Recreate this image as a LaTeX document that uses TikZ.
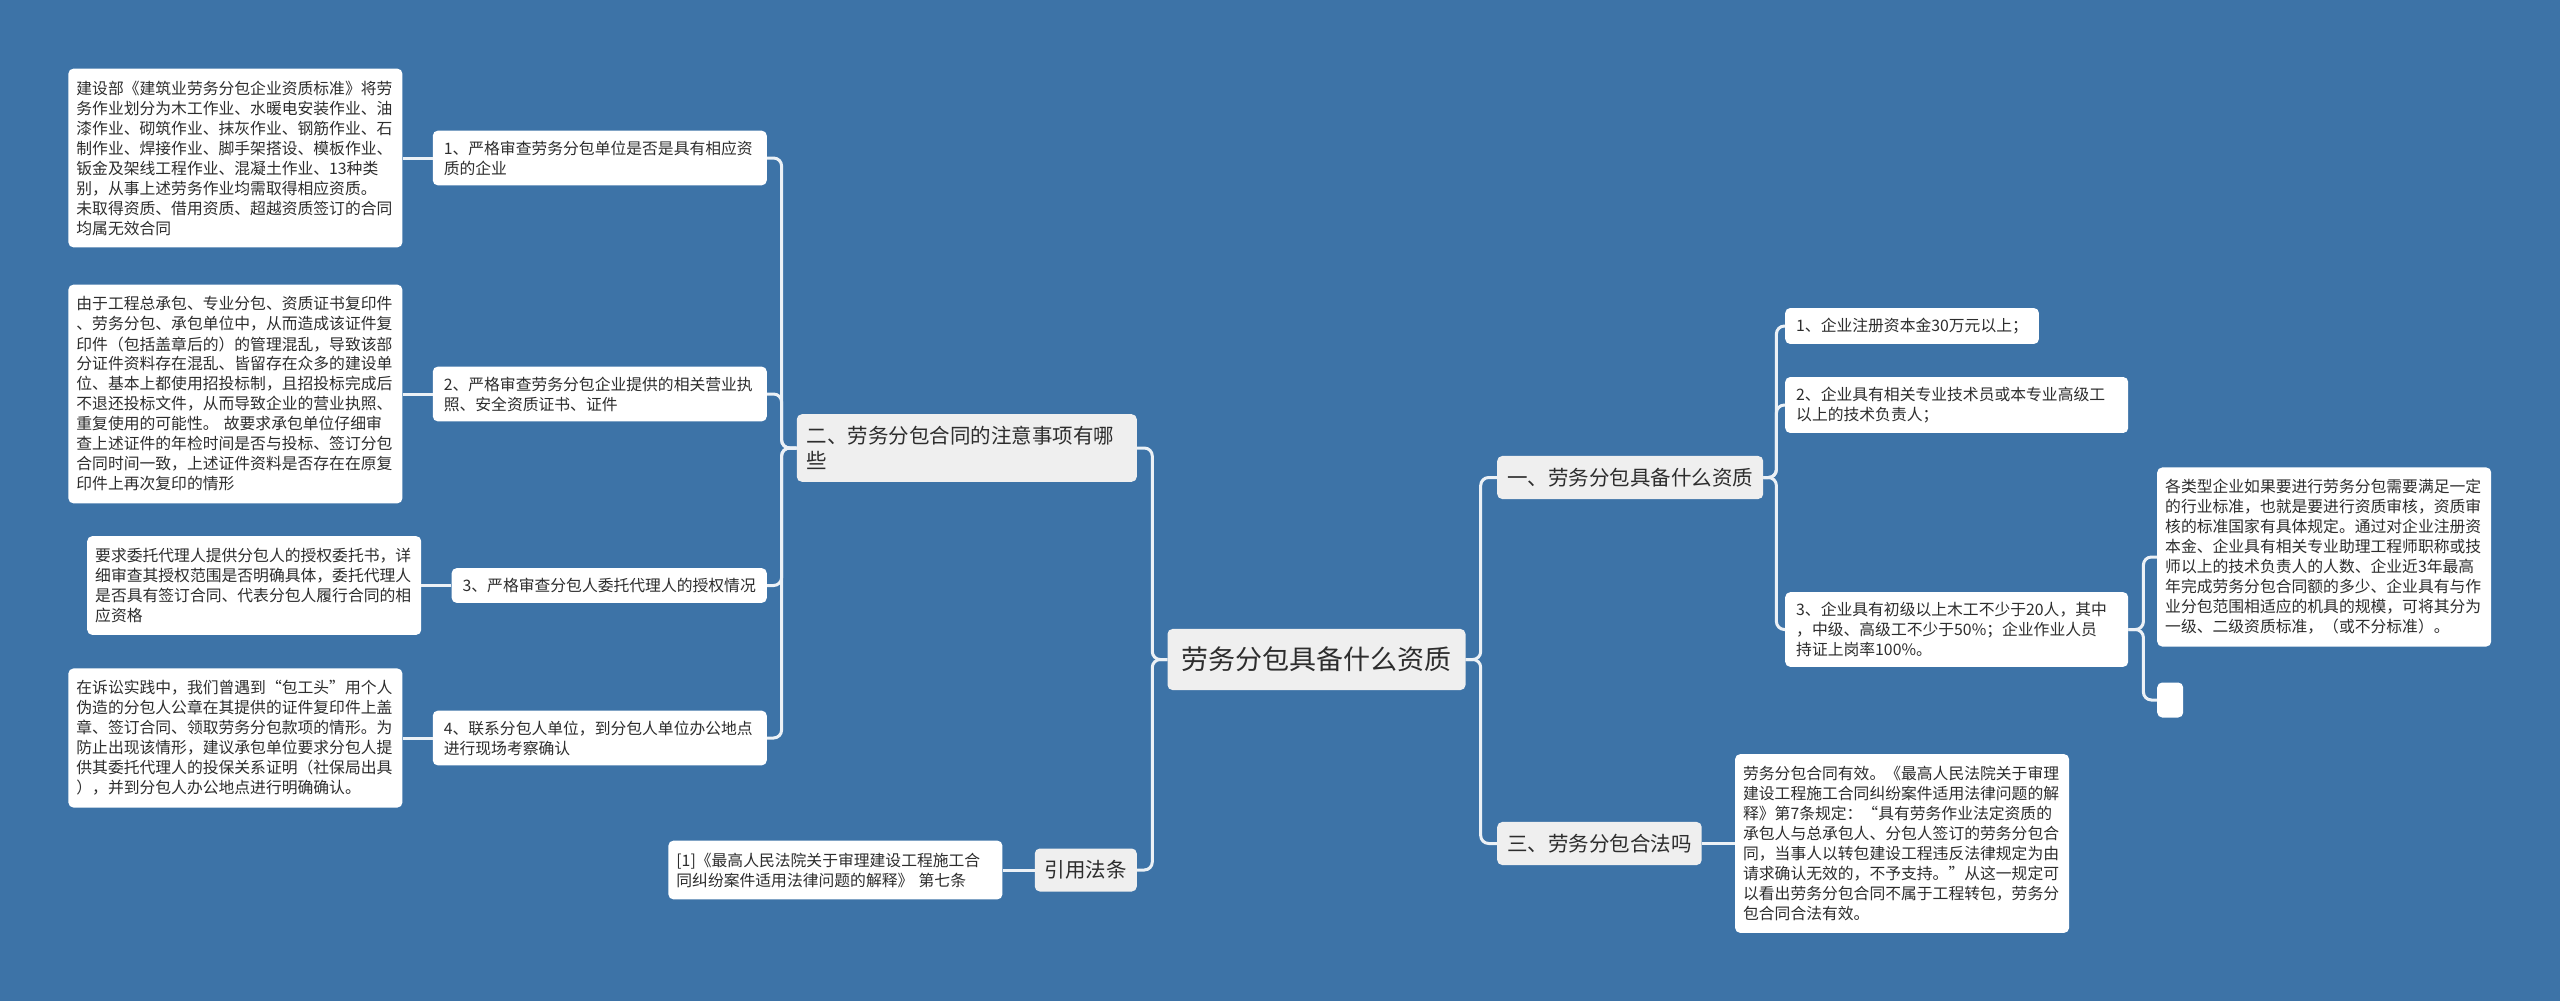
\documentclass[tikz,border=0pt]{standalone}
\usepackage{fontspec}
\setmainfont{Noto Sans CJK SC}
\usetikzlibrary{positioning}
\definecolor{bgblue}{RGB}{61,115,167}
\definecolor{topicgray}{RGB}{239,239,239}
\definecolor{inkgray}{RGB}{45,45,45}
\definecolor{linkwhite}{RGB}{236,241,246}

\begin{document}
\begin{tikzpicture}[x=1pt,y=-1pt,node distance=30pt,
  cardbase/.style={rounded corners=5pt,text=inkgray,align=left},
  rootbox/.style={cardbase,fill=topicgray,font=\fontsize{27}{32}\selectfont,inner xsep=14pt,inner ysep=18pt},
  topic/.style={cardbase,fill=topicgray,font=\fontsize{20.5}{25}\selectfont,inner xsep=10pt,inner ysep=12pt},
  sub/.style={cardbase,fill=white,font=\fontsize{15.8}{20}\selectfont,inner xsep=11pt,inner ysep=10pt},
  leaf/.style={cardbase,fill=white,font=\fontsize{15.8}{20}\selectfont,text width=318pt,inner xsep=8pt,inner ysep=12pt},
  link/.style={draw=linkwhite,line width=3pt,rounded corners=8pt}]
\useasboundingbox (0,0) rectangle (2560,1001);
\fill[bgblue] (0,0) rectangle (2560,1001);

% centre and first level
\node[rootbox] (root) at (1316.5,659.5) {劳务分包具备什么资质};
\node[topic,text width=320pt,anchor=east] (er) at (1137,448) {二、劳务分包合同的注意事项有哪\\些};
\node[topic,anchor=east] (yinyong) at (1137,870) {引用法条};
\node[topic,anchor=west] (yi) at (1497,477.5) {一、劳务分包具备什么资质};
\node[topic,anchor=west] (san) at (1497,843.5) {三、劳务分包合法吗};

% left branch
\node[sub,text width=312pt,anchor=east] (e1) at (767,158) {1、严格审查劳务分包单位是否是具有相应资\\质的企业};
\node[sub,text width=312pt,anchor=east] (e2) at (767,394) {2、严格审查劳务分包企业提供的相关营业执\\照、安全资质证书、证件};
\node[sub,anchor=east] (e3) at (767,585.5) {3、严格审查分包人委托代理人的授权情况};
\node[sub,text width=312pt,anchor=east] (e4) at (767,738) {4、联系分包人单位，到分包人单位办公地点\\进行现场考察确认};

\node[leaf,left=of e1] (e1-note) {建设部《建筑业劳务分包企业资质标准》将劳\\务作业划分为木工作业、水暖电安装作业、油\\漆作业、砌筑作业、抹灰作业、钢筋作业、石\\制作业、焊接作业、脚手架搭设、模板作业、\\钣金及架线工程作业、混凝土作业、13种类\\别，从事上述劳务作业均需取得相应资质。\\未取得资质、借用资质、超越资质签订的合同\\均属无效合同};
\node[leaf,left=of e2] (e2-note) {由于工程总承包、专业分包、资质证书复印件\\、劳务分包、承包单位中，从而造成该证件复\\印件（包括盖章后的）的管理混乱，导致该部\\分证件资料存在混乱、皆留存在众多的建设单\\位、基本上都使用招投标制，且招投标完成后\\不退还投标文件，从而导致企业的营业执照、\\重复使用的可能性。 故要求承包单位仔细审\\查上述证件的年检时间是否与投标、签订分包\\合同时间一致，上述证件资料是否存在在原复\\印件上再次复印的情形};
\node[leaf,left=of e3] (e3-note) {要求委托代理人提供分包人的授权委托书，详\\细审查其授权范围是否明确具体，委托代理人\\是否具有签订合同、代表分包人履行合同的相\\应资格};
\node[leaf,left=of e4] (e4-note) {在诉讼实践中，我们曾遇到“包工头”用个人\\伪造的分包人公章在其提供的证件复印件上盖\\章、签订合同、领取劳务分包款项的情形。为\\防止出现该情形，建议承包单位要求分包人提\\供其委托代理人的投保关系证明（社保局出具\\），并到分包人办公地点进行明确确认。};
\node[leaf,left=32pt of yinyong] (yinyong-note) {[1]《最高人民法院关于审理建设工程施工合\\同纠纷案件适用法律问题的解释》 第七条};

% right branch
\node[sub,anchor=west] (y1) at (1785,326) {1、企业注册资本金30万元以上；};
\node[sub,text width=321pt,anchor=west] (y2) at (1785,405) {2、企业具有相关专业技术员或本专业高级工\\以上的技术负责人；};
\node[sub,text width=321pt,anchor=west] (y3) at (1785,629.5) {3、企业具有初级以上木工不少于20人，其中\\，中级、高级工不少于50\%；企业作业人员\\持证上岗率100\%。};
\node[leaf,anchor=west] (y3-note) at (2157,557) {各类型企业如果要进行劳务分包需要满足一定\\的行业标准，也就是要进行资质审核，资质审\\核的标准国家有具体规定。通过对企业注册资\\本金、企业具有相关专业助理工程师职称或技\\师以上的技术负责人的人数、企业近3年最高\\年完成劳务分包合同额的多少、企业具有与作\\业分包范围相适应的机具的规模，可将其分为\\一级、二级资质标准，（或不分标准）。};
\node[sub,anchor=west,minimum width=26pt,minimum height=35pt,inner sep=0pt] (y3-blank) at (2157,700) {};
\node[leaf,right=33pt of san] (san-note) {劳务分包合同有效。《最高人民法院关于审理\\建设工程施工合同纠纷案件适用法律问题的解\\释》第7条规定：“具有劳务作业法定资质的\\承包人与总承包人、分包人签订的劳务分包合\\同，当事人以转包建设工程违反法律规定为由\\请求确认无效的，不予支持。”从这一规定可\\以看出劳务分包合同不属于工程转包，劳务分\\包合同合法有效。};

% connectors
\draw[link] (root.west) -- ++(-15,0) |- (er.east);
\draw[link] (root.west) -- ++(-15,0) |- (yinyong.east);
\draw[link] (root.east) -- ++(15,0) |- (yi.west);
\draw[link] (root.east) -- ++(15,0) |- (san.west);
\foreach \k in {e1,e2,e3,e4}
  \draw[link] (er.west) -- ++(-15,0) |- (\k.east);
\foreach \k in {y1,y2,y3}
  \draw[link] (yi.east) -- ++(13,0) |- (\k.west);
\draw[link] (y3.east) -- ++(15,0) |- (y3-note.west);
\draw[link] (y3.east) -- ++(15,0) |- (y3-blank.west);
\foreach \k in {e1,e2,e3,e4}
  \draw[link] (\k.west) -- (\k-note.east);
\draw[link] (yinyong.west) -- (yinyong-note.east);
\draw[link] (san.east) -- (san-note.west);
\end{tikzpicture}
\end{document}
